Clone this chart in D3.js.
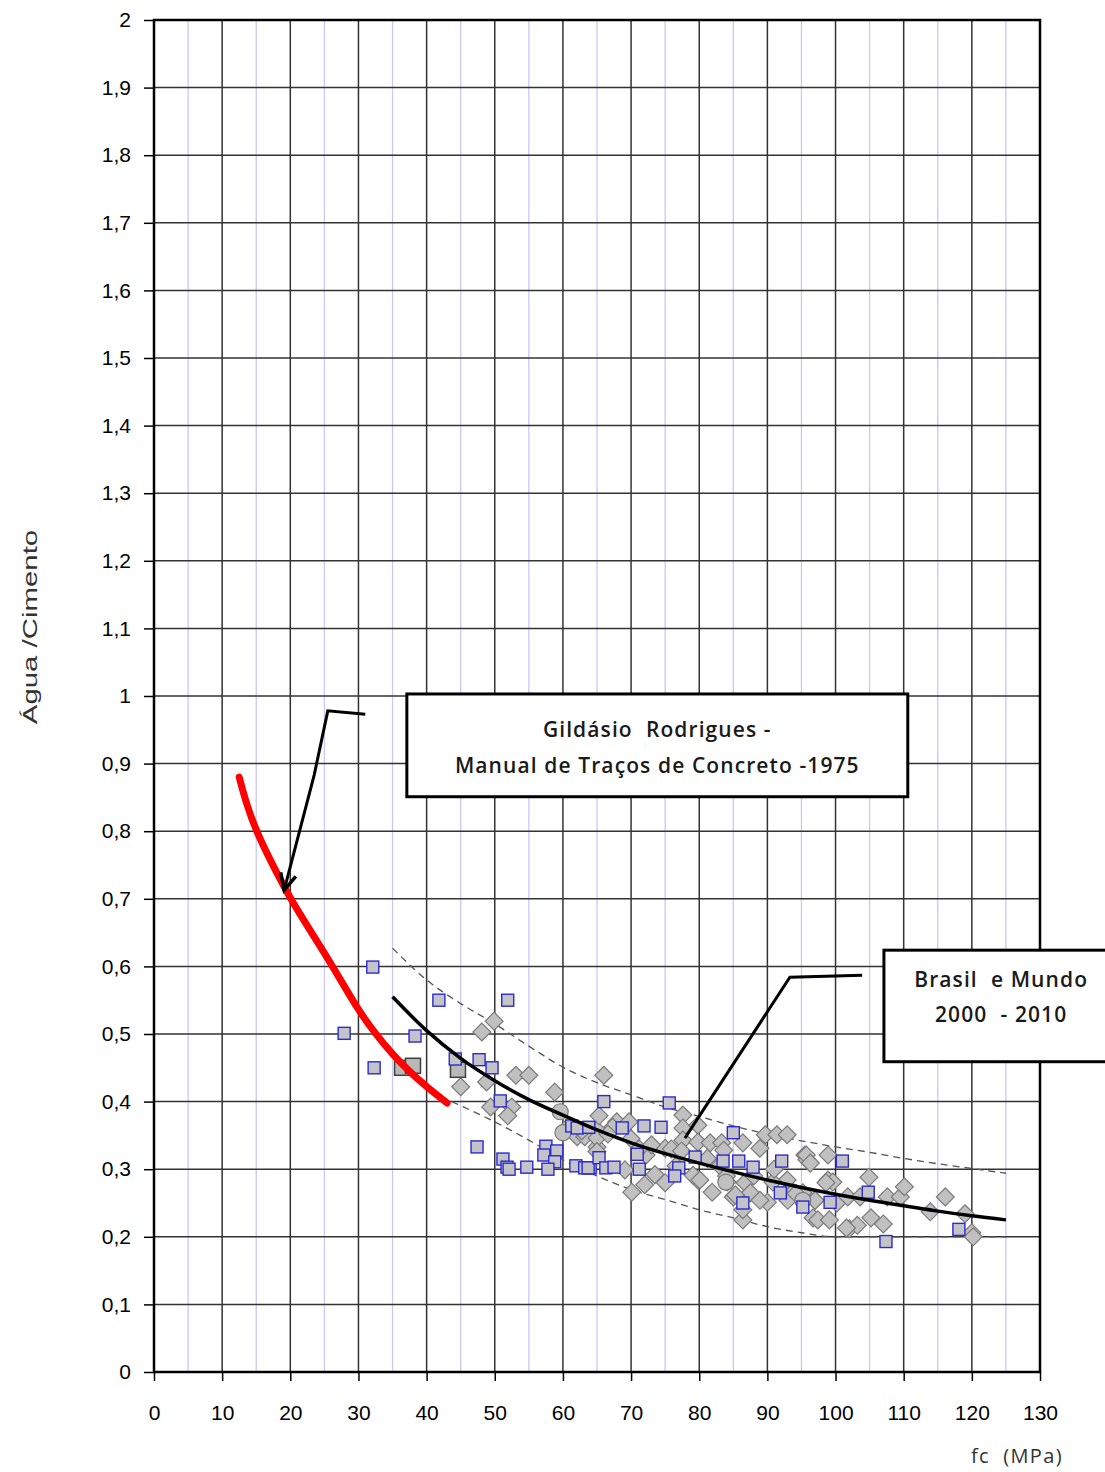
<!DOCTYPE html>
<html><head><meta charset="utf-8">
<script src="https://cdn.jsdelivr.net/npm/d3@7/dist/d3.min.js"></script>
<style>body{margin:0;background:#fff}svg{display:block}</style>
</head><body>
<svg id="chart" width="1105" height="1472"></svg>
<script>
// ---------- data ----------
const xTicks = [0,10,20,30,40,50,60,70,80,90,100,110,120,130];
const yTicks = [0,0.1,0.2,0.3,0.4,0.5,0.6,0.7,0.8,0.9,1,1.1,1.2,1.3,1.4,1.5,1.6,1.7,1.8,1.9,2];
const xMinorGrid = [5,15,25,35,45,55,65,75,85,95,105,115,125];
const yTickLabels = ["0","0,1","0,2","0,3","0,4","0,5","0,6","0,7","0,8","0,9","1","1,1","1,2","1,3","1,4","1,5","1,6","1,7","1,8","1,9","2"];

const redCurve = [[12.5,0.88],[13.5,0.842],[15,0.8],[17,0.758],[20,0.70],[22.5,0.66],[25,0.62],[27.5,0.578],[30,0.535],[32.5,0.5],[35,0.47],[37.5,0.444],[40,0.422],[43,0.398]];
const trendLine = [[35,0.555],[40,0.505],[45,0.464],[50,0.431],[55,0.403],[60,0.38],[65,0.358],[70,0.339],[75,0.323],[80,0.309],[85,0.296],[90,0.284],[95,0.273],[100,0.263],[105,0.254],[110,0.246],[115,0.238],[120,0.231],[125,0.225]];
const upperBand = [[35,0.627],[40,0.58],[45,0.545],[50,0.515],[55,0.482],[60,0.451],[65,0.428],[70,0.41],[75,0.392],[80,0.378],[85,0.364],[90,0.352],[95,0.342],[100,0.333],[105,0.325],[110,0.316],[115,0.308],[120,0.301],[125,0.294]];
const lowerBand = [[43.7,0.40],[50,0.37],[55,0.343],[60,0.314],[65,0.29],[70,0.27],[75,0.255],[80,0.24],[85,0.228],[90,0.215],[95,0.206],[100,0.2],[125,0.2]];

const diamonds = [[49.9,0.519],[48.1,0.503],[45.0,0.422],[48.8,0.429],[49.4,0.392],[52.5,0.392],[51.9,0.379],[53.1,0.439],[55.0,0.439],[58.8,0.414],
 [62.1,0.348],[65.0,0.358],[65.0,0.333],[66.0,0.439],[65.3,0.379],[67.9,0.370],[69.7,0.370],[67.3,0.362],[63.2,0.348],[65.0,0.346],[65.0,0.326],[69.1,0.299],
 [72.2,0.321],[72.0,0.277],[70.1,0.266],[75.0,0.331],[75.0,0.280],[77.6,0.380],[77.6,0.361],[77.6,0.343],[79.8,0.365],[79.8,0.340],[81.6,0.339],[83.3,0.339],
 [86.4,0.339],[79.8,0.284],[81.9,0.266],[84.1,0.281],[85.0,0.259],[86.7,0.280],[87.5,0.265],[86.4,0.225],[88.9,0.331],[89.7,0.351],[91.4,0.351],[92.9,0.351],
 [90.0,0.251],[95.5,0.321],[95.8,0.314],[96.7,0.228],[92.9,0.284],[93.8,0.266],[90.8,0.281],[95.7,0.321],[96.3,0.309],[98.9,0.321],[98.9,0.284],[99.6,0.281],
 [95.2,0.265],[97.0,0.254],[100.2,0.250],[101.8,0.259],[103.6,0.259],[104.9,0.288],[97.4,0.225],[102.0,0.212],[103.2,0.217],[105.2,0.228],[107.0,0.219],
 [107.6,0.259],[109.5,0.259],[110.1,0.274],[113.9,0.237],[116.1,0.259],[119.0,0.234],[120.0,0.206],[120.2,0.200],[75.9,0.330],[77.4,0.327],[79.1,0.291],
 [80.1,0.284],[85.3,0.262],[86.4,0.240],[88.9,0.254],[93.0,0.254],[94.2,0.264],[97.0,0.254],[98.6,0.280],[99.1,0.225],[101.6,0.213],[73.5,0.292],[71.2,0.330],
 [60.5,0.36],[62.8,0.357],[66.6,0.352],[70.0,0.345],[73.0,0.336],[81.2,0.316],[83.0,0.305],[84.0,0.29],[88.0,0.29],[91.0,0.30],[83.6,0.328],[76.6,0.305]];
const blueSquares = [[32.1,0.599],[27.9,0.501],[32.3,0.450],[41.8,0.550],[38.3,0.497],[51.9,0.550],[44.2,0.463],[47.7,0.462],[49.6,0.450],[50.8,0.401],
 [47.4,0.333],[51.2,0.315],[51.8,0.303],[52.1,0.300],[54.7,0.303],[57.5,0.334],[57.2,0.321],[59.1,0.327],[58.8,0.311],[57.8,0.300],[61.9,0.305],[63.2,0.302],
 [64.0,0.302],[66.0,0.400],[75.6,0.398],[61.3,0.364],[62.1,0.361],[63.8,0.362],[68.7,0.361],[71.9,0.364],[74.4,0.362],[63.7,0.302],[65.3,0.317],[66.3,0.302],
 [67.5,0.303],[70.9,0.322],[71.2,0.300],[77.0,0.302],[76.4,0.290],[79.4,0.318],[83.5,0.312],[85.8,0.312],[85.0,0.354],[87.9,0.303],[92.1,0.312],[86.4,0.250],
 [91.9,0.265],[95.2,0.244],[101.0,0.312],[99.2,0.251],[104.8,0.266],[118.1,0.211],[107.4,0.193]];
const graySquares = [[36.4,0.450],[38.0,0.453],[44.6,0.447]];
const circles = [[59.6,0.385],[60.0,0.354],[83.9,0.281],[95.2,0.254]];

const leftArrow = [[31.0,0.973],[25.5,0.978],[23.5,0.883],[19.1,0.713]];
const rightPointer = [[103.9,0.587],[93.3,0.584],[77.9,0.346]];
const boxes = [
  {x0:37.1, x1:110.6, y0:1.003, y1:0.851, lines:["Gildásio  Rodrigues -","Manual de Traços de Concreto -1975"], tx:73.85, ty:[0.951,0.898]},
  {x0:107.1, x1:140, y0:0.624, y1:0.459, lines:["Brasil  e Mundo","2000  - 2010"], tx:124.3, ty:[0.581,0.529]}
];
const xTitle = "fc  (MPa)";
const yTitle = "Água /Cimento";

// ---------- layout ----------
const svg = d3.select("#chart");
const L = 154, T = 20, R = 1040, B = 1372;
const x = d3.scaleLinear().domain([0,130]).range([L,R]);
const y = d3.scaleLinear().domain([0,2]).range([B,T]);
const line = d3.line().x(d=>x(d[0])).y(d=>y(d[1]));
const smooth = d3.line().x(d=>x(d[0])).y(d=>y(d[1])).curve(d3.curveMonotoneX);
const soft = d3.line().x(d=>x(d[0])).y(d=>y(d[1])).curve(d3.curveBasis);

const grid = svg.append("g");
grid.selectAll(".vm").data(xMinorGrid).join("line")
  .attr("x1",d=>x(d)).attr("x2",d=>x(d)).attr("y1",T).attr("y2",B)
  .attr("stroke","#c9c9f2").attr("stroke-width",1.3);
grid.selectAll(".vM").data(xTicks.slice(1,-1)).join("line")
  .attr("x1",d=>x(d)).attr("x2",d=>x(d)).attr("y1",T).attr("y2",B)
  .attr("stroke","#333").attr("stroke-width",1.5);
grid.selectAll(".hM").data(yTicks.slice(1,-1)).join("line")
  .attr("y1",d=>y(d)).attr("y2",d=>y(d)).attr("x1",L).attr("x2",R)
  .attr("stroke","#333").attr("stroke-width",1.5);

// axes
const yAxis = d3.axisLeft(y).tickValues(yTicks).tickSize(10).tickPadding(13)
  .tickFormat((d,i)=>yTickLabels[i]);
const gy = svg.append("g").attr("transform",`translate(${L},0)`).call(yAxis);
const xAxis = d3.axisBottom(x).tickValues(xTicks).tickSize(9).tickPadding(24);
const gx = svg.append("g").attr("transform",`translate(0,${B})`).call(xAxis);
[gx,gy].forEach(g=>{
  g.select(".domain").remove();
  g.selectAll("line").attr("stroke","#000").attr("stroke-width",1.5);
  g.selectAll("text").attr("font-family","'Liberation Sans', Arial, sans-serif").attr("font-size",21).attr("fill","#000");
});
svg.append("rect").attr("x",L).attr("y",T).attr("width",R-L).attr("height",B-T)
  .attr("fill","none").attr("stroke","#000").attr("stroke-width",2.5);

// bands
svg.append("path").datum(upperBand).attr("d",smooth).attr("fill","none")
  .attr("stroke","#555").attr("stroke-width",1.3).attr("stroke-dasharray","7,5");
svg.append("path").datum(lowerBand).attr("d",smooth).attr("fill","none")
  .attr("stroke","#555").attr("stroke-width",1.3).attr("stroke-dasharray","7,5");

// points
const pts = svg.append("g");
pts.selectAll(".dia").data(diamonds).join("path")
  .attr("d",d3.symbol().type(d3.symbolSquare).size(160))
  .attr("transform",d=>`translate(${x(d[0])},${y(d[1])}) rotate(45)`)
  .attr("fill","#c0c0c0").attr("stroke","#7a7a7a").attr("stroke-width",1.2);
pts.selectAll(".cir").data(circles).join("circle")
  .attr("cx",d=>x(d[0])).attr("cy",d=>y(d[1])).attr("r",8)
  .attr("fill","#c0c0c0").attr("stroke","#7a7a7a").attr("stroke-width",1.2);
pts.selectAll(".gsq").data(graySquares).join("rect")
  .attr("x",d=>x(d[0])-7.5).attr("y",d=>y(d[1])-7.5).attr("width",15).attr("height",15)
  .attr("fill","#b8b8b8").attr("stroke","#404040").attr("stroke-width",1.5);
pts.selectAll(".bsq").data(blueSquares).join("rect")
  .attr("x",d=>x(d[0])-6).attr("y",d=>y(d[1])-6).attr("width",12).attr("height",12)
  .attr("fill","#c4c4c8").attr("stroke","#2a2ad0").attr("stroke-width",1.4);

// curves
svg.append("path").datum(trendLine).attr("d",smooth).attr("fill","none")
  .attr("stroke","#000").attr("stroke-width",3.5);
svg.append("path").datum(redCurve).attr("d",soft).attr("fill","none")
  .attr("stroke","#f00").attr("stroke-width",7).attr("stroke-linecap","round");

// annotations
svg.append("path").datum(leftArrow).attr("d",line).attr("fill","none")
  .attr("stroke","#000").attr("stroke-width",3);
{
  const n = leftArrow.length, p = leftArrow[n-1], q = leftArrow[n-2];
  const ex = x(p[0]), ey = y(p[1]);
  const ang = Math.atan2(ey - y(q[1]), ex - x(q[0]));
  const len = 18, spread = 0.45;
  const a1 = [ex - len*Math.cos(ang-spread), ey - len*Math.sin(ang-spread)];
  const a2 = [ex - len*Math.cos(ang+spread), ey - len*Math.sin(ang+spread)];
  svg.append("path").attr("d",`M${a1[0]},${a1[1]}L${ex},${ey}L${a2[0]},${a2[1]}`)
    .attr("fill","none").attr("stroke","#000").attr("stroke-width",3.5).attr("stroke-linejoin","miter");
}
svg.append("path").datum(rightPointer).attr("d",line).attr("fill","none")
  .attr("stroke","#000").attr("stroke-width",3);

boxes.forEach(b=>{
  svg.append("rect").attr("x",x(b.x0)).attr("y",y(b.y0))
    .attr("width",x(b.x1)-x(b.x0)).attr("height",y(b.y1)-y(b.y0))
    .attr("fill","#fff").attr("stroke","#000").attr("stroke-width",3);
  b.lines.forEach((t,i)=>{
    svg.append("text").attr("x",x(b.tx)).attr("y",y(b.ty[i]))
      .attr("text-anchor","middle").attr("dominant-baseline","central")
      .attr("font-family","'Open Sans', sans-serif").attr("font-weight",600)
      .attr("font-size",21).attr("letter-spacing",1.1).attr("fill","#1a1a1a")
      .style("white-space","pre").text(t);
  });
});

// titles
svg.append("text").attr("transform",`translate(30,627) rotate(-90) scale(1.4,1)`)
  .attr("text-anchor","middle").attr("dominant-baseline","central")
  .attr("font-family","'Liberation Sans', Arial, sans-serif").attr("font-size",21).attr("fill","#333")
  .text(yTitle);
svg.append("text").attr("x",1017).attr("y",1455).attr("text-anchor","middle")
  .attr("dominant-baseline","central").style("white-space","pre")
  .attr("font-family","'Open Sans', sans-serif").attr("font-size",20).attr("letter-spacing",1.4).attr("fill","#333")
  .text(xTitle);
</script>
</body></html>
